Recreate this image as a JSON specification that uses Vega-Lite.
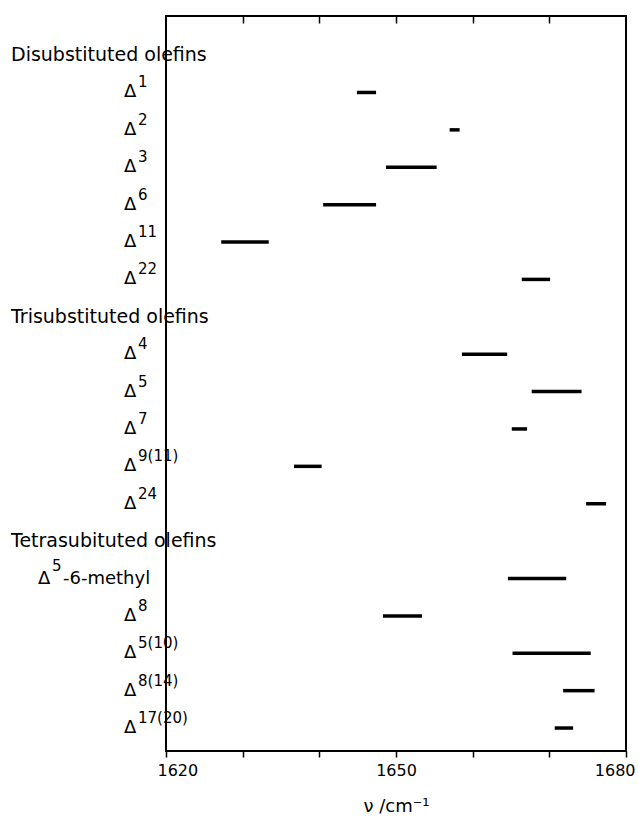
{
  "$schema": "https://vega.github.io/schema/vega-lite/v6.json",
  "width": 460,
  "height": 735,
  "autosize": "none",
  "padding": {"left": 166, "top": 16, "right": 12, "bottom": 68},
  "background": "white",
  "config": {
    "view": {"stroke": "black", "strokeWidth": 2},
    "font": "DejaVu Sans",
    "text": {"font": "DejaVu Sans", "color": "black"}
  },
  "data": {
    "values": [
      {"name": "Disubstituted olefins", "kind": "head"},
      {"name": "Δ1", "kind": "item", "sup": "1", "lo": 1644.9, "hi": 1647.4},
      {"name": "Δ2", "kind": "item", "sup": "2", "lo": 1657.0, "hi": 1658.3},
      {"name": "Δ3", "kind": "item", "sup": "3", "lo": 1648.7, "hi": 1655.3},
      {"name": "Δ6", "kind": "item", "sup": "6", "lo": 1640.5, "hi": 1647.4},
      {"name": "Δ11", "kind": "item", "sup": "11", "lo": 1627.2, "hi": 1633.4},
      {"name": "Δ22", "kind": "item", "sup": "22", "lo": 1666.4, "hi": 1670.1},
      {"name": "Trisubstituted olefins", "kind": "head"},
      {"name": "Δ4", "kind": "item", "sup": "4", "lo": 1658.6, "hi": 1664.5},
      {"name": "Δ5", "kind": "item", "sup": "5", "lo": 1667.7, "hi": 1674.2},
      {"name": "Δ7", "kind": "item", "sup": "7", "lo": 1665.1, "hi": 1667.1},
      {"name": "Δ9(11)", "kind": "item", "sup": "9(11)", "lo": 1636.7, "hi": 1640.3},
      {"name": "Δ24", "kind": "item", "sup": "24", "lo": 1674.8, "hi": 1677.4},
      {"name": "Tetrasubituted olefins", "kind": "head"},
      {"name": "Δ5-6-methyl", "kind": "item", "sup": "5", "suffix": "-6-methyl", "lo": 1664.6, "hi": 1672.2},
      {"name": "Δ8", "kind": "item", "sup": "8", "lo": 1648.3, "hi": 1653.4},
      {"name": "Δ5(10)", "kind": "item", "sup": "5(10)", "lo": 1665.2, "hi": 1675.4},
      {"name": "Δ8(14)", "kind": "item", "sup": "8(14)", "lo": 1671.8, "hi": 1675.9},
      {"name": "Δ17(20)", "kind": "item", "sup": "17(20)", "lo": 1670.7, "hi": 1673.1}
    ]
  },
  "encoding": {
    "y": {
      "field": "name",
      "type": "nominal",
      "sort": null,
      "scale": {
        "type": "point",
        "domain": ["Disubstituted olefins", "Δ1", "Δ2", "Δ3", "Δ6", "Δ11", "Δ22", "Trisubstituted olefins", "Δ4", "Δ5", "Δ7", "Δ9(11)", "Δ24", "Tetrasubituted olefins", "Δ5-6-methyl", "Δ8", "Δ5(10)", "Δ8(14)", "Δ17(20)"],
        "padding": 0.83,
        "align": 0.63
      },
      "axis": null
    }
  },
  "layer": [
    {
      "transform": [{"filter": "datum.kind == 'item'"}],
      "mark": {"type": "rule", "strokeWidth": 3.5, "color": "black", "strokeCap": "butt"},
      "encoding": {
        "x": {
          "field": "lo",
          "type": "quantitative",
          "scale": {"domain": [1620, 1680], "nice": false, "zero": false},
          "axis": {
            "orient": "bottom",
            "values": [1620, 1630, 1640, 1650, 1660, 1670, 1680],
            "format": "d",
            "labelExpr": "datum.value % 30 === 0 ? datum.label : ''",
            "tickSize": 6,
            "tickWidth": 1.5,
            "tickColor": "black",
            "domain": false,
            "grid": false,
            "labelFontSize": 16,
            "labelColor": "black",
            "labelFont": "DejaVu Sans",
            "labelPadding": 5,
            "labelFlush": true,
            "labelFlushOffset": 9,
            "title": "ν /cm⁻¹",
            "titleFont": "DejaVu Sans",
            "titleFontSize": 18,
            "titleFontWeight": "normal",
            "titleColor": "black",
            "titlePadding": 19
          }
        },
        "x2": {"field": "hi"}
      }
    },
    {
      "transform": [{"filter": "datum.kind == 'head'"}],
      "mark": {"type": "text", "align": "left", "baseline": "middle", "dx": -155, "fontSize": 19},
      "encoding": {
        "x": {
          "datum": 1620,
          "type": "quantitative",
          "axis": {
            "orient": "top",
            "values": [1630, 1640, 1650, 1660, 1670],
            "labels": false,
            "tickSize": -7,
            "tickWidth": 1.5,
            "tickColor": "black",
            "domain": false,
            "grid": false,
            "title": null
          }
        },
        "text": {"field": "name"}
      }
    },
    {
      "transform": [{"filter": "datum.kind == 'item' && !datum.suffix"}],
      "mark": {"type": "text", "align": "left", "baseline": "alphabetic", "dx": -42, "dy": 5, "fontSize": 18, "text": "Δ"},
      "encoding": {"x": {"datum": 1620, "type": "quantitative", "axis": null}}
    },
    {
      "transform": [{"filter": "datum.kind == 'item' && !datum.suffix"}],
      "mark": {"type": "text", "align": "left", "baseline": "alphabetic", "dx": -28, "dy": -5, "fontSize": 15},
      "encoding": {"x": {"datum": 1620, "type": "quantitative", "axis": null}, "text": {"field": "sup"}}
    },
    {
      "transform": [{"filter": "datum.kind == 'item' && datum.suffix"}],
      "mark": {"type": "text", "align": "left", "baseline": "alphabetic", "dx": -128, "dy": 6, "fontSize": 18, "text": "Δ"},
      "encoding": {"x": {"datum": 1620, "type": "quantitative", "axis": null}}
    },
    {
      "transform": [{"filter": "datum.kind == 'item' && datum.suffix"}],
      "mark": {"type": "text", "align": "left", "baseline": "alphabetic", "dx": -114, "dy": -7, "fontSize": 15},
      "encoding": {"x": {"datum": 1620, "type": "quantitative", "axis": null}, "text": {"field": "sup"}}
    },
    {
      "transform": [{"filter": "datum.kind == 'item' && datum.suffix"}],
      "mark": {"type": "text", "align": "left", "baseline": "alphabetic", "dx": -103, "dy": 6, "fontSize": 18},
      "encoding": {"x": {"datum": 1620, "type": "quantitative", "axis": null}, "text": {"field": "suffix"}}
    }
  ],
  "resolve": {"axis": {"x": "independent"}}
}
